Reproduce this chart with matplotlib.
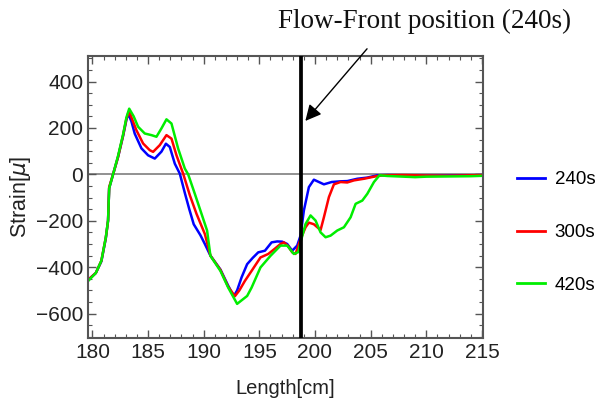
import numpy as np
import matplotlib.pyplot as plt
from matplotlib.ticker import MultipleLocator
from matplotlib.lines import Line2D

# values
len_240 = [179.6, 180.3, 180.8, 181.2, 181.4, 181.5, 181.85, 182.3, 182.75, 183.05,
           183.2, 183.5, 183.8, 184.4, 185.0, 185.6, 186.2, 186.6, 186.95, 187.4,
           187.85, 188.3, 188.7, 189.1, 189.7, 190.1, 190.6, 191.5, 192.2, 192.7,
           193.0, 193.4, 193.9, 194.4, 194.9, 195.5, 196.1, 196.6, 197.05, 197.5,
           197.95, 198.4, 198.7, 199.0, 199.45, 199.9, 200.35, 200.8, 201.5, 202.3,
           202.9, 203.8, 204.7, 205.6, 206.5, 208, 210, 212, 214, 215.2]
strain_240 = [-455, -425, -375, -275, -200, -60, 0, 75, 165, 235,
              262, 228, 175, 112, 82, 68, 98, 132, 118, 46,
              3, -80, -150, -215, -262, -300, -350, -410, -480, -525,
              -500, -444, -387, -360, -336, -329, -293, -289, -290, -300,
              -329, -307, -264, -156, -55, -23, -33, -43, -33, -30,
              -29, -19, -14, -4, -3, -4, -6, -5, -4, -3]

len_300 = [179.6, 180.3, 180.8, 181.2, 181.4, 181.5, 181.85, 182.3, 182.75, 183.05,
           183.3, 183.95, 184.55, 185.15, 185.45, 186.05, 186.65, 187.1, 187.55, 188.15,
           188.75, 189.35, 190.1, 190.6, 191.5, 192.2, 192.8, 193.2, 193.7, 194.3,
           195.1, 195.8, 196.4, 196.9, 197.2, 197.6, 197.95, 198.25, 198.7, 199.15,
           199.45, 199.9, 200.5, 200.8, 201.25, 201.7, 202.3, 202.9, 203.5, 204.4,
           205.3, 206, 208, 210, 212, 214, 215.2]
strain_300 = [-455, -425, -372, -272, -200, -55, 0, 75, 168, 240,
              270, 190, 133, 104, 97, 126, 169, 154, 82, 3,
              -90, -170, -257, -350, -412, -485, -525, -500, -459, -416,
              -358, -343, -320, -300, -293, -310, -336, -343, -280, -228,
              -208, -215, -240, -185, -98, -43, -33, -35, -26, -19,
              -10, -4, -3, -5, -6, -4, -3]

len_420 = [179.6, 180.3, 180.8, 181.2, 181.4, 181.5, 181.85, 182.3, 182.75, 183.05,
           183.3, 183.7, 184.1, 184.7, 185.3, 185.75, 186.2, 186.65, 187.1, 187.7,
           188.3, 188.6, 189.2, 189.8, 190.3, 190.6, 191.5, 192.2, 193.0, 193.9,
           194.3, 195.1, 196.0, 196.9, 197.5, 198.1, 198.5, 198.7, 199.15, 199.6,
           200.05, 200.5, 200.95, 201.4, 202.0, 202.6, 203.2, 203.65, 204.25, 204.7,
           205.3, 205.8, 206.5, 208, 209, 210, 212, 214, 215.2]
strain_420 = [-460, -425, -372, -271, -199, -60, 0, 80, 172, 245,
              283, 250, 205, 176, 169, 162, 198, 237, 219, 111,
              25, 0, -84, -170, -242, -351, -416, -488, -558, -524,
              -488, -401, -351, -307, -307, -343, -335, -293, -214, -177,
              -199, -250, -271, -264, -242, -228, -185, -127, -113, -84,
              -33, -4, -7, -10, -12, -10, -9, -8, -6]

labels = ['240s', '300s', '420s']
colors = ['#0000ff', '#ff0000', '#00ee00']
front_pos = 198.7

fig = plt.figure(figsize=(5.96, 4.08), dpi=100)
ax = fig.add_axes([0.1477, 0.1716, 0.6627, 0.6912])

ax.axhline(0, color='#888888', lw=1.3, zorder=1)
series = [(len_240, strain_240), (len_300, strain_300), (len_420, strain_420)]
for (x, y), c, lab in zip(series, colors, labels):
    ax.plot(x, y, color=c, lw=1.8, label=lab, zorder=2, solid_joinstyle='round')

ax.axvline(front_pos, color='black', lw=2.7, zorder=3)

ax.set_xlim(179.6, 215.1)
ax.set_ylim(-705, 510)
ax.xaxis.set_major_locator(MultipleLocator(5))
ax.xaxis.set_minor_locator(MultipleLocator(1))
ax.yaxis.set_major_locator(MultipleLocator(200))
ax.yaxis.set_minor_locator(MultipleLocator(50))
ax.tick_params(which='both', direction='in', top=True, right=True,
               color='#555555', labelsize=15, labelcolor='#222222')
ax.tick_params(which='major', length=6, width=1)
ax.tick_params(which='minor', length=3, width=0.8)
for lbl in ax.get_xticklabels() + ax.get_yticklabels():
    lbl.set_family('Liberation Sans')
for sp in ax.spines.values():
    sp.set_color('#555555')
    sp.set_linewidth(1.5)

ax.set_xlabel('Length[cm]', fontsize=14.5, family='Liberation Sans', color='#222222', labelpad=12)
ax.set_ylabel('Strain[$\\mu$]', fontsize=15.5, family='Liberation Sans', color='#222222', labelpad=2)

# arrow pointing at the flow front
ax.annotate('', xy=(198.97, 221), xytext=(204.84, 550), annotation_clip=False,
            arrowprops=dict(arrowstyle='-|>', mutation_scale=24, lw=1, color='black'))
fig.text(0.713, 0.948, 'Flow-Front position (240s)', ha='center', va='center',
         fontsize=19.5, family='Liberation Serif', color='#111111')

handles = [Line2D([], [], color=c, lw=2) for c in colors]
fig.legend(handles, labels, loc='center left', bbox_to_anchor=(0.868, 0.43),
           frameon=False, handlelength=1.5, handletextpad=0.5,
           labelspacing=1.9, borderpad=0, borderaxespad=0,
           prop={'family': 'Liberation Sans', 'size': 13.5})

fig.savefig('out.png', dpi=100)
